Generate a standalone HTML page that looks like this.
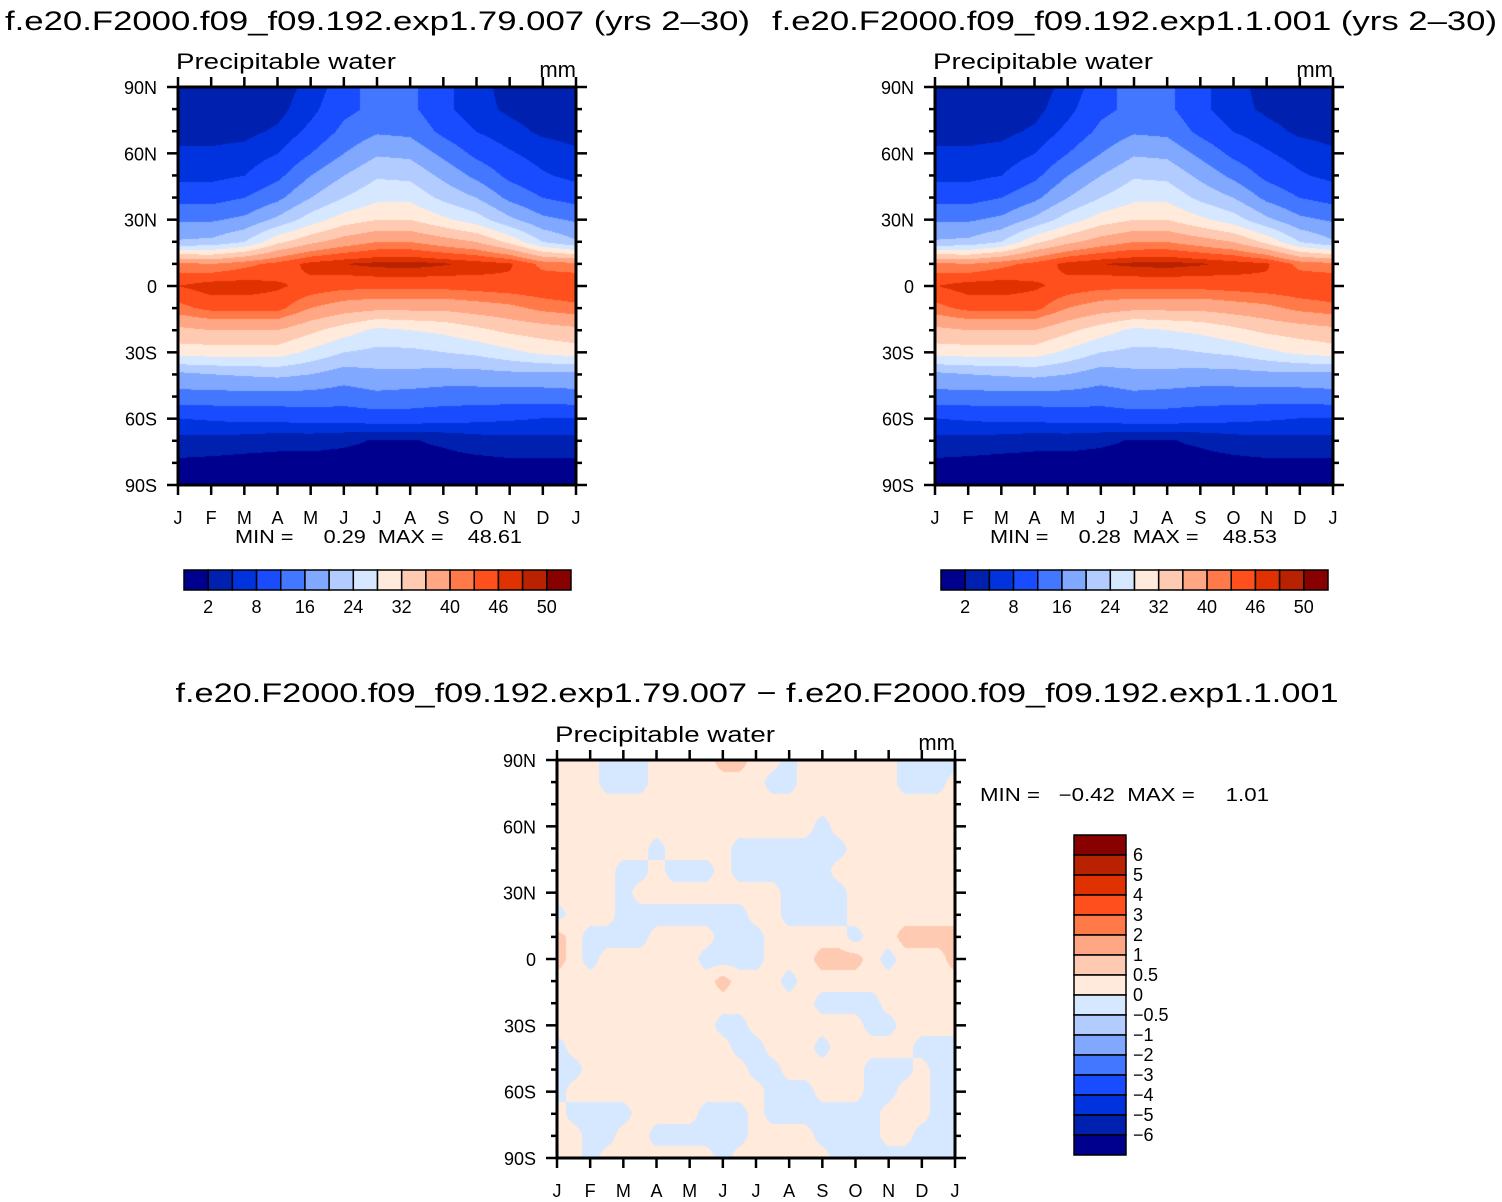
<!DOCTYPE html>
<html><head><meta charset="utf-8"><style>
body{margin:0;background:#fff;width:1502px;height:1202px;position:relative;overflow:hidden}
canvas{position:absolute}
svg{position:absolute;left:0;top:0}
text{font-family:"Liberation Sans",sans-serif;fill:#000;white-space:pre}
</style></head><body>
<canvas id="c1" width="398" height="398" style="left:178px;top:87px"></canvas>
<canvas id="c2" width="398" height="398" style="left:935px;top:87px"></canvas>
<canvas id="c3" width="398" height="398" style="left:557px;top:760px"></canvas>
<svg id="s" width="1502" height="1202"></svg>
<script>
const months=["J","F","M","A","M","J","J","A","S","O","N","D","J"];
const latLabels=["90N","60N","30N","0","30S","60S","90S"];
const levels=[2,5,8,12,16,20,24,28,32,36,40,43,46,48,50];
const levelLabels=["2","8","16","24","32","40","46","50"];
const diffLevels=[-6,-5,-4,-3,-2,-1,-0.5,0,0.5,1,2,3,4,5,6];
const diffLabels=["6","5","4","3","2","1","0.5","0","\u22120.5","\u22121","\u22122","\u22123","\u22124","\u22125","\u22126"];
const colors=["#00008f","#0020b0","#0033dd","#1a4cff","#4477ff","#80a8ff","#b3ccff","#d6e8ff","#ffeadb","#ffcab2","#ffa784","#ff7a48","#ff4f1c","#e03200","#b82200","#880000"];
// rows: months Jan..Jan ; values: lat 90N..90S step 10
const pwA=[
[3,3.5,4,5.5,7,10.5,15.5,20.5,41,46,42,35,30,19,14.5,8,4,1.5,1],
[3,3.5,4,5.5,7,10.5,15.5,21,40,47.5,44,36,30,20,14.5,8.5,4,1.2,1],
[3.2,3.5,4.2,6,8,12,17,24,42,47.5,44,36,30,20.5,14.5,9,3.5,1,1],
[3.5,4,5.5,8,11,15,21,31,44,46.5,44,36,30,21,14.5,9,3,1,1],
[6,7,9,12,16,20,26,35,47,45,40,33,27,20,14.5,9.5,3,1,0.8],
[10,11,13,16,20,24,30,38,48,44,38,30,24,18,14,9.5,2.5,1,0.6],
[14,13,15.5,19.5,23.5,27,32,40,48.7,44,37,27,23,19,15,10,1.8,1,0.5],
[13,13,15,19,23,27,32,40,49,44,37,28,23,19,14.5,10,1.8,1,0.5],
[9,9,11,15,19,23,29,38,48.3,44,37,29,24,18.5,14,9.5,2.5,1,0.6],
[6,6,8,11,15,20,26,36,47.5,44.5,38,31,25,18.5,14,9,3.5,1.2,0.8],
[4,4.5,6,8.5,11,15,21,31,46.5,45,39,33,27,19,14,8.5,4,1.5,1],
[3.2,3.5,4.5,6.5,8.5,12,17,24,42,45.5,41,34,29,19,14,8,4,1.5,1],
[3,3.5,4,5.5,7,10.5,15.5,20.5,41,46,42,35,30,19,14.5,8,4,1.5,1]];
const pwB=[
[3,3.5,4,5.5,7,10.5,15.5,20.5,41,45.9,42,35,30,19,14.5,8,4,1.5,1],
[3,3.5,4,5.5,7,10.5,15.5,21,40,47.4,44,36,30,20,14.5,8.5,4,1.2,1],
[3.2,3.5,4.2,6,8,12,17,24,42,47.5,44,36,30,20.5,14.5,9,3.5,1,1],
[3.5,4,5.5,8,11,15,21,31,44,46.5,44,36,30,21,14.5,9,3,1,1],
[6,7,9,12,16,20,26,35,47,45,40,33,27,20,14.5,9.5,3,1,0.8],
[10,11,13,16,20,24,30,38,48,44,38,30,24,18,14,9.5,2.5,1,0.6],
[14,13,15.5,19.5,23.5,27,32,40,48.6,44,37,27,23,19,15,10,1.8,1,0.5],
[13,13,15,19,23,27,32,40,48.9,44,37,28,23,19,14.5,10,1.8,1,0.5],
[9,9,11,15,19,23,29,38,48.3,44,37,29,24,18.5,14,9.5,2.5,1,0.6],
[6,6,8,11,15,20,26,36,47.5,44.5,38,31,25,18.5,14,9,3.5,1.2,0.8],
[4,4.5,6,8.5,11,15,21,31,46.5,45,39,33,27,19,14,8.5,4,1.5,1],
[3.2,3.5,4.5,6.5,8.5,12,17,24,42,45.5,41,34,29,19,14,8,4,1.5,1],
[3,3.5,4,5.5,7,10.5,15.5,20.5,41,45.9,42,35,30,19,14.5,8,4,1.5,1]];
// difference: rows lat 90N..90S (19), cols 25 across year
const P=0.25,B=-0.25,R=0.75;
const diff=[
[P,P,P,B,B,B,P,P,P,P,R,R,P,P,B,P,P,P,P,P,P,B,B,B,B],
[P,P,P,B,B,B,P,P,P,P,P,P,P,B,B,P,P,P,P,P,P,B,B,B,P],
[P,P,P,P,P,P,P,P,P,P,P,P,P,P,P,P,P,P,P,P,P,P,P,P,P],
[P,P,P,P,P,P,P,P,P,P,P,P,P,P,P,P,B,P,P,P,P,P,P,P,P],
[P,P,P,P,P,P,B,P,P,P,P,B,B,B,B,B,B,B,P,P,P,P,P,P,P],
[P,P,P,P,B,B,P,B,B,B,P,B,B,B,B,B,B,P,P,P,P,P,P,P,P],
[P,P,P,P,B,P,P,P,P,P,P,P,P,P,B,B,B,B,P,P,P,P,P,P,P],
[B,P,P,P,B,B,B,B,B,B,B,B,P,P,B,B,B,B,P,P,P,P,P,P,P],
[R,P,B,B,B,B,P,P,P,P,B,B,B,P,P,P,P,P,B,P,P,R,R,R,R],
[R,P,B,P,P,P,P,P,P,B,B,B,B,P,P,P,R,R,R,P,B,P,P,P,R],
[P,P,P,P,P,P,P,P,P,P,R,P,P,P,B,P,P,P,P,P,P,P,P,P,P],
[P,P,P,P,P,P,P,P,P,P,P,P,P,P,P,P,B,B,B,B,P,P,P,P,P],
[P,P,P,P,P,P,P,P,P,P,B,B,P,P,P,P,P,P,P,B,B,P,P,P,P],
[B,P,P,P,P,P,P,P,P,P,P,B,B,P,P,P,B,P,P,P,P,P,B,B,B],
[B,B,P,P,P,P,P,P,P,P,P,P,B,B,P,P,P,P,P,B,B,B,P,B,B],
[B,P,P,P,P,P,P,P,P,P,P,P,P,B,B,B,P,P,P,B,B,P,P,B,B],
[P,B,B,B,B,P,P,P,P,B,B,B,P,B,B,B,B,B,B,B,P,P,P,B,B],
[P,P,B,B,P,P,B,B,B,B,B,B,P,P,P,P,B,B,B,B,P,P,B,B,B],
[P,P,B,P,P,P,P,P,P,P,B,P,P,P,P,P,P,B,B,B,B,B,B,B,B]];

const NS="http://www.w3.org/2000/svg";
const svg=document.getElementById('s');
function el(tag,attrs,parent){const e=document.createElementNS(NS,tag);for(const k in attrs)e.setAttribute(k,attrs[k]);(parent||svg).appendChild(e);return e;}
function txt(x,y,s,size,anchor,len,name){const t=el('text',{x:x,y:y,'font-size':size,'text-anchor':anchor||'start'});if(len){t.setAttribute('textLength',len);t.setAttribute('lengthAdjust','spacingAndGlyphs');}t.textContent=s;return t;}
function hex(c){return [parseInt(c.slice(1,3),16),parseInt(c.slice(3,5),16),parseInt(c.slice(5,7),16)];}
function cls(v,lv){let i=0;while(i<lv.length&&v>=lv[i])i++;return i;}
function fill(id,get,lv){
  const cv=document.getElementById(id),ctx=cv.getContext('2d'),W=cv.width,H=cv.height;
  const img=ctx.createImageData(W,H);const rgb=colors.map(hex);
  for(let py=0;py<H;py++)for(let px=0;px<W;px++){
    const v=get(px/(W-1),py/(H-1));const c=rgb[cls(v,lv)];const o=(py*W+px)*4;
    img.data[o]=c[0];img.data[o+1]=c[1];img.data[o+2]=c[2];img.data[o+3]=255;}
  ctx.putImageData(img,0,0);
}
function bil(g,r,c){
  const nr=g.length,nc=g[0].length;const rr=Math.min(r*(nr-1),nr-1.0001),cc=Math.min(c*(nc-1),nc-1.0001);
  const r0=Math.floor(rr),c0=Math.floor(cc),fr=rr-r0,fc=cc-c0;
  return g[r0][c0]*(1-fr)*(1-fc)+g[r0][c0+1]*(1-fr)*fc+g[r0+1][c0]*fr*(1-fc)+g[r0+1][c0+1]*fr*fc;
}
fill('c1',(fx,fy)=>bil(pwA,fx,fy),levels);
fill('c2',(fx,fy)=>bil(pwB,fx,fy),levels);
fill('c3',(fx,fy)=>bil(diff,fy,fx),diffLevels);

function axes(x0,y0,name,xlabY){
  const W=398,H=398;const g=el('g',{});
  const sx=i=>x0+i*W/12, sy=lat=>y0+(90-lat)/180*H;
  for(let i=0;i<13;i++){
    el('line',{x1:sx(i),y1:y0,x2:sx(i),y2:y0-10,stroke:'#000','stroke-width':2.5},g);
    el('line',{x1:sx(i),y1:y0+H,x2:sx(i),y2:y0+H+10,stroke:'#000','stroke-width':2.5},g);
    txt(sx(i),xlabY,months[i],18,'middle',null,'x-tick-label');
  }
  for(let lat=90;lat>=-90;lat-=10){
    const major=lat%30===0,L=major?11:6;
    el('line',{x1:x0,y1:sy(lat),x2:x0-L,y2:sy(lat),stroke:'#000','stroke-width':2.5},g);
    el('line',{x1:x0+W,y1:sy(lat),x2:x0+W+L,y2:sy(lat),stroke:'#000','stroke-width':2.5},g);
  }
  latLabels.forEach((s,i)=>txt(x0-21,sy(90-30*i)+7,s,18,'end',null,'y-tick-label'));
  el('rect',{x:x0,y:y0,width:W,height:H,fill:'none',stroke:'#000','stroke-width':3},g);
  txt(x0-2,y0-18,'Precipitable water',22,'start',220,'plot-subtitle');
  txt(x0+W,y0-10,'mm',22,'end',null,'units-label');
}
axes(178,87,'plot-a-axes',524);
axes(935,87,'plot-b-axes',524);
axes(557,760,'diff-axes',1197);

txt(5,30,'f.e20.F2000.f09_f09.192.exp1.79.007 (yrs 2\u201330)',27,'start',745,'title-a');
txt(772,30,'f.e20.F2000.f09_f09.192.exp1.1.001 (yrs 2\u201330)',27,'start',725,'title-b');
txt(757,702,'f.e20.F2000.f09_f09.192.exp1.79.007 \u2212 f.e20.F2000.f09_f09.192.exp1.1.001',27,'middle',1163,'title-diff');
txt(235,543,'MIN =     0.29  MAX =    48.61',18,'start',287,'minmax-a');
txt(990,543,'MIN =     0.28  MAX =    48.53',18,'start',287,'minmax-b');
txt(980,801,'MIN =   \u22120.42  MAX =     1.01',18,'start',289,'minmax-diff');

function hbar(x0,name){
  const g=el('g',{});const w=387/16;
  colors.forEach((c,i)=>el('rect',{x:x0+i*w,y:570,width:w,height:20,fill:c,stroke:'#000','stroke-width':1.5},g));
  levelLabels.forEach((s,i)=>txt(x0+(2*i+1)*w,613,s,18,'middle',null,'colorbar-label'));
}
hbar(184,'colorbar-a');hbar(941,'colorbar-b');
(function(){
  const g=el('g',{});const h=20;
  for(let i=0;i<16;i++)el('rect',{x:1074,y:835+i*h,width:52,height:h,fill:colors[15-i],stroke:'#000','stroke-width':1.5},g);
  diffLabels.forEach((s,i)=>txt(1133,861+i*h,s,18,'start',null,'colorbar-label'));
})();
</script>
</body></html>
